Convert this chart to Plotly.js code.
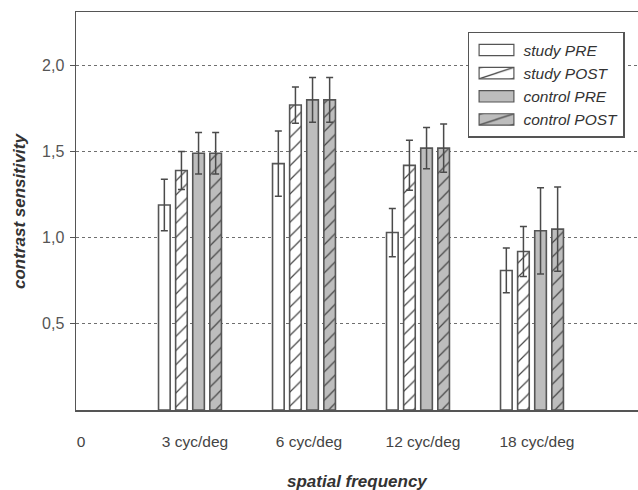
<!DOCTYPE html>
<html>
<head>
<meta charset="utf-8">
<script src="https://cdn.plot.ly/plotly-3.0.1.min.js"></script>
<style>
  html, body { margin: 0; padding: 0; background: #fff; }
  #chart { width: 638px; height: 490px; }
</style>
</head>
<body>
<div id="chart"></div>
<script>
// Categories on the frequency axis ('0' is the empty origin slot)
const axisLabels = ['0', '3 cyc/deg', '6 cyc/deg', '12 cyc/deg', '18 cyc/deg'];
const frequencies = ['3 cyc/deg', '6 cyc/deg', '12 cyc/deg', '18 cyc/deg'];

// Mean contrast sensitivity and standard deviation per group
const studyPre = [1.19, 1.43, 1.03, 0.81];
const studyPreSd = [0.15, 0.19, 0.14, 0.13];
const studyPost = [1.39, 1.77, 1.42, 0.92];
const studyPostSd = [0.11, 0.105, 0.145, 0.145];
const controlPre = [1.49, 1.80, 1.52, 1.04];
const controlPreSd = [0.12, 0.13, 0.12, 0.25];
const controlPost = [1.49, 1.80, 1.52, 1.05];
const controlPostSd = [0.12, 0.13, 0.14, 0.245];

const yTicks = [0.5, 1.0, 1.5, 2.0];

const EDGE = '#555555';
const GREY = '#bdbdbd';
const FONT = 'Liberation Sans, Arial, sans-serif';

function series(name, y, sd, fill, hatched) {
  const marker = {
    color: fill,
    line: { color: EDGE, width: 1.6 }
  };
  if (hatched) {
    marker.pattern = { shape: '/', fgcolor: '#444444', bgcolor: fill, size: 10, solidity: 0.12 };
  }
  return {
    type: 'bar',
    name: name,
    x: frequencies,
    y: y,
    marker: marker,
    error_y: { type: 'data', array: sd, visible: true, color: '#4a4a4a', thickness: 1.5, width: 3.5 }
  };
}

const data = [
  series('study PRE', studyPre, studyPreSd, '#ffffff', false),
  series('study POST', studyPost, studyPostSd, '#ffffff', true),
  series('control PRE', controlPre, controlPreSd, GREY, false),
  series('control POST', controlPost, controlPostSd, GREY, true)
];

const layout = {
  width: 638,
  height: 490,
  margin: { l: 76, r: 0, t: 12, b: 80 },
  paper_bgcolor: '#ffffff',
  plot_bgcolor: '#ffffff',
  separators: ', ',
  font: { family: FONT, size: 15, color: '#444444' },
  barmode: 'group',
  bargap: 0.40,
  bargroupgap: 0.32,
  showlegend: true,
  legend: {
    x: 0.6975, y: 0.95, xanchor: 'left', yanchor: 'top',
    bordercolor: EDGE, borderwidth: 1.5, bgcolor: '#ffffff',
    font: { family: FONT, size: 15.5, color: '#333333', style: 'italic' },
    itemwidth: 44,
    tracegroupgap: 0
  },
  xaxis: {
    type: 'category',
    categoryorder: 'array',
    categoryarray: axisLabels,
    range: [0, 4.93],
    ticks: '',
    ticklabelstandoff: 17,
    ticklabelshift: 5,
    showgrid: false,
    zeroline: false,
    showline: true,
    mirror: true,
    linecolor: EDGE,
    linewidth: 1.5,
    tickfont: { family: FONT, size: 15.5, color: '#444444' }
  },
  yaxis: {
    range: [0, 2.31],
    tickmode: 'array',
    tickvals: yTicks,
    tickformat: '.1f',
    ticks: 'outside',
    ticklen: 5,
    tickcolor: EDGE,
    tickwidth: 1.2,
    ticklabelstandoff: 2,
    showgrid: true,
    gridcolor: '#6f6f6f',
    griddash: 'dot',
    gridwidth: 1,
    zeroline: false,
    showline: true,
    linecolor: EDGE,
    linewidth: 1.5,
    tickfont: { family: FONT, size: 16, color: '#555555' }
  },
  annotations: [
    {
      text: 'contrast sensitivity',
      xref: 'paper', yref: 'paper',
      x: (19 - 76) / 562, y: 0.5,
      xanchor: 'center', yanchor: 'middle',
      textangle: -90, showarrow: false,
      font: { family: FONT, size: 17, color: '#333333', weight: 'bold', style: 'italic' }
    },
    {
      text: 'spatial frequency',
      xref: 'paper', yref: 'paper',
      x: 0.5, y: (410 - 481) / 398,
      xanchor: 'center', yanchor: 'middle',
      showarrow: false,
      font: { family: FONT, size: 17, color: '#333333', weight: 'bold', style: 'italic' }
    }
  ]
};

Plotly.newPlot('chart', data, layout, { displayModeBar: false, staticPlot: true }).then(function (gd) {
  // Stretch the legend swatches into wide rectangles, keeping thin outlines
  gd.querySelectorAll('.legend .legendpoints path').forEach(function (p) {
    const t = p.getAttribute('transform') || '';
    p.setAttribute('transform', t + ' scale(2.9,0.95)');
    p.setAttribute('vector-effect', 'non-scaling-stroke');
    p.style.strokeWidth = '1.2px';
  });
});
</script>
</body>
</html>
